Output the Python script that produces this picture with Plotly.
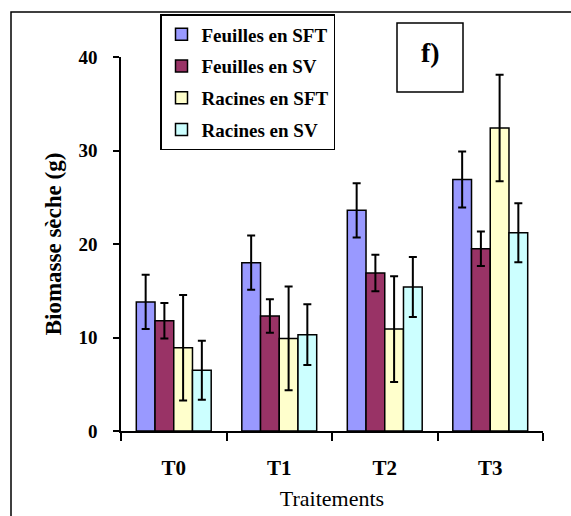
import plotly.graph_objects as go

categories = ["T0", "T1", "T2", "T3"]
series_names = ["Feuilles en SFT", "Feuilles en SV", "Racines en SFT", "Racines en SV"]
feuilles_sft = [13.8, 18.0, 23.6, 26.9]
feuilles_sft_err = [2.9, 2.9, 2.9, 3.0]
feuilles_sv = [11.8, 12.3, 16.9, 19.5]
feuilles_sv_err = [1.9, 1.8, 1.95, 1.85]
racines_sft = [8.9, 9.9, 10.9, 32.4]
racines_sft_err = [5.65, 5.55, 5.65, 5.7]
racines_sv = [6.5, 10.3, 15.4, 21.2]
racines_sv_err = [3.15, 3.25, 3.2, 3.15]
y_ticks = [0, 10, 20, 30, 40]

colors = ["#9999FF", "#993366", "#FFFFCC", "#CCFFFF"]
values = [feuilles_sft, feuilles_sv, racines_sft, racines_sv]
errors = [feuilles_sft_err, feuilles_sv_err, racines_sft_err, racines_sv_err]

FONT = "Liberation Serif, Times New Roman, serif"

fig = go.Figure()
for i, (name, v, e, c) in enumerate(zip(series_names, values, errors, colors)):
    fig.add_trace(go.Bar(
        x=categories, y=v, name=name, legendgroup=f"g{i}",
        marker=dict(color=c, line=dict(color="black", width=1.5)),
        error_y=dict(type="data", array=e, visible=True, color="black",
                     thickness=2, width=4),
    ))

W, H = 571, 516
ml, mr, mt, mb = 121, 28, 57, 85

fig.update_layout(
    width=W, height=H,
    margin=dict(l=ml, r=mr, t=mt, b=mb, autoexpand=False),
    paper_bgcolor="white", plot_bgcolor="white",
    barmode="group", bargap=0.29, bargroupgap=0,
    font=dict(family=FONT, color="black"),
    showlegend=True,
    legend=dict(
        x=(160 - ml) / (W - ml - mr), y=(H - mb - 14) / (H - mb - mt),
        xanchor="left", yanchor="top",
        bgcolor="white", bordercolor="black", borderwidth=1.5,
        font=dict(family=FONT, size=19, color="black", weight="bold"),
        traceorder="grouped", tracegroupgap=4, itemwidth=30,
    ),
    xaxis=dict(
        showline=True, linecolor="black", linewidth=1.5,
        ticks="outside", ticklen=8, tickwidth=1.5, tickcolor="black",
        tickson="boundaries",
        tickfont=dict(family=FONT, size=21, color="black", weight="bold"),
        ticklabelstandoff=17,
        title=dict(text="Traitements", font=dict(family=FONT, size=22, color="black"),
                   standoff=12),
        showgrid=False, zeroline=False,
    ),
    yaxis=dict(
        range=[0, 40], tickvals=y_ticks,
        showline=True, linecolor="black", linewidth=1.5,
        ticks="outside", ticklen=6, tickwidth=1.5, tickcolor="black",
        tickfont=dict(family=FONT, size=19, color="black", weight="bold"),
        ticklabelstandoff=12,
        title=dict(text="Biomasse sèche (g)",
                   font=dict(family=FONT, size=23, color="black", weight="bold"),
                   standoff=10),
        showgrid=False, zeroline=False,
    ),
    shapes=[
        # outer frame (top and left visible)
        dict(type="rect", xref="paper", yref="paper",
             x0=(11 - ml) / (W - ml - mr), x1=(600 - ml) / (W - ml - mr),
             y0=(H - mb - 540) / (H - mb - mt), y1=(H - mb - 12) / (H - mb - mt),
             line=dict(color="black", width=1.5), layer="below"),
        # "f)" box
        dict(type="rect", xref="paper", yref="paper",
             x0=(397 - ml) / (W - ml - mr), x1=(463 - ml) / (W - ml - mr),
             y0=(H - mb - 92) / (H - mb - mt), y1=(H - mb - 23) / (H - mb - mt),
             line=dict(color="black", width=1.5), fillcolor="white"),
    ],
    annotations=[
        dict(text="<b>f)</b>", xref="paper", yref="paper",
             x=(430 - ml) / (W - ml - mr), y=(H - mb - 53) / (H - mb - mt),
             xanchor="center", yanchor="middle", showarrow=False,
             font=dict(family=FONT, size=28, color="black")),
    ],
)

fig.write_html("out.html")
